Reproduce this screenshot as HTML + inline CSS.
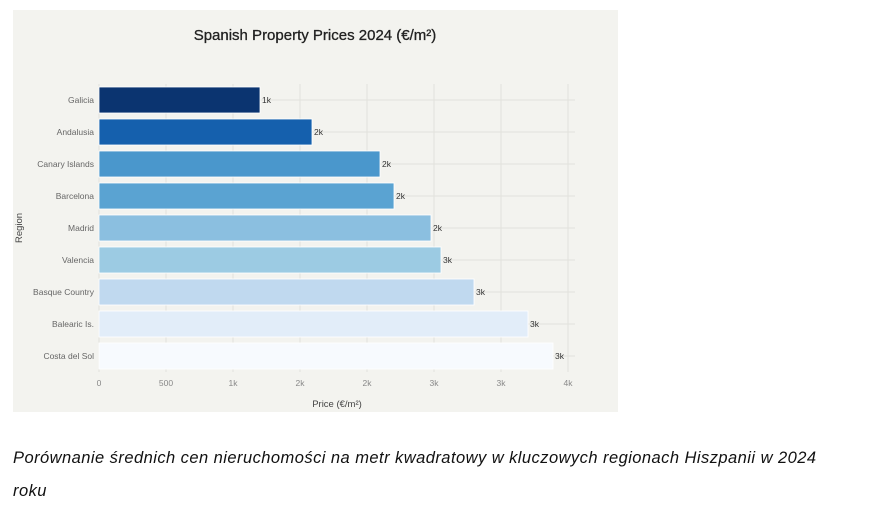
<!DOCTYPE html>
<html><head><meta charset="utf-8"><style>
body{margin:0;background:#fff;width:872px;height:513px;overflow:hidden;font-family:"Liberation Sans",sans-serif}
.cap{position:absolute;left:13px;top:442px;width:850px;font-style:italic;font-size:16.5px;line-height:33px;color:#111;letter-spacing:0.45px;white-space:nowrap}
</style></head><body>
<svg width="872" height="513" style="position:absolute;left:0;top:0" font-family="Liberation Sans, sans-serif">
<rect x="13" y="10" width="605" height="402" fill="#f3f3ef"/>
<text x="315" y="40" text-anchor="middle" font-size="15" fill="#222" stroke="#222" stroke-width="0.3">Spanish Property Prices 2024 (€/m²)</text>
<g stroke="#e2e2dc" stroke-width="1">
<line x1="99" y1="84" x2="99" y2="372"/><line x1="166" y1="84" x2="166" y2="372"/><line x1="233" y1="84" x2="233" y2="372"/><line x1="300" y1="84" x2="300" y2="372"/><line x1="367" y1="84" x2="367" y2="372"/><line x1="434" y1="84" x2="434" y2="372"/><line x1="501" y1="84" x2="501" y2="372"/><line x1="568" y1="84" x2="568" y2="372"/>
<line x1="99" y1="100" x2="575" y2="100"/><line x1="99" y1="132" x2="575" y2="132"/><line x1="99" y1="164" x2="575" y2="164"/><line x1="99" y1="196" x2="575" y2="196"/><line x1="99" y1="228" x2="575" y2="228"/><line x1="99" y1="260" x2="575" y2="260"/><line x1="99" y1="292" x2="575" y2="292"/><line x1="99" y1="324" x2="575" y2="324"/><line x1="99" y1="356" x2="575" y2="356"/>
</g>
<g stroke="#fff" stroke-width="0.8">
<rect x="99" y="87" width="161" height="26" fill="#0b3470"/>
<rect x="99" y="119" width="213" height="26" fill="#1560ad"/>
<rect x="99" y="151" width="281" height="26" fill="#4a97cc"/>
<rect x="99" y="183" width="295" height="26" fill="#5aa3d2"/>
<rect x="99" y="215" width="332" height="26" fill="#8bbfe0"/>
<rect x="99" y="247" width="342" height="26" fill="#9ccbe3"/>
<rect x="99" y="279" width="375" height="26" fill="#c0d9ef"/>
<rect x="99" y="311" width="429" height="26" fill="#e2edf9"/>
<rect x="99" y="343" width="454" height="26" fill="#f7fafe"/>
</g>
<g font-size="8.5" fill="#333">
<text x="262" y="103">1k</text><text x="314" y="135">2k</text><text x="382" y="167">2k</text><text x="396" y="199">2k</text><text x="433" y="231">2k</text><text x="443" y="263">3k</text><text x="476" y="295">3k</text><text x="530" y="327">3k</text><text x="555" y="359">3k</text>
</g>
<g font-size="8.5" fill="#666" text-anchor="end">
<text x="94" y="103">Galicia</text><text x="94" y="135">Andalusia</text><text x="94" y="167">Canary Islands</text><text x="94" y="199">Barcelona</text><text x="94" y="231">Madrid</text><text x="94" y="263">Valencia</text><text x="94" y="295">Basque Country</text><text x="94" y="327">Balearic Is.</text><text x="94" y="359">Costa del Sol</text>
</g>
<g font-size="8.5" fill="#888" text-anchor="middle">
<text x="99" y="386">0</text><text x="166" y="386">500</text><text x="233" y="386">1k</text><text x="300" y="386">2k</text><text x="367" y="386">2k</text><text x="434" y="386">3k</text><text x="501" y="386">3k</text><text x="568" y="386">4k</text>
</g>
<text x="337" y="407" text-anchor="middle" font-size="9.5" fill="#444">Price (€/m²)</text>
<text transform="translate(22,228) rotate(-90)" text-anchor="middle" font-size="9.5" fill="#444">Region</text>
</svg>
<div class="cap">Porównanie średnich cen nieruchomości na metr kwadratowy w kluczowych regionach Hiszpanii w 2024<br>roku</div>
</body></html>
